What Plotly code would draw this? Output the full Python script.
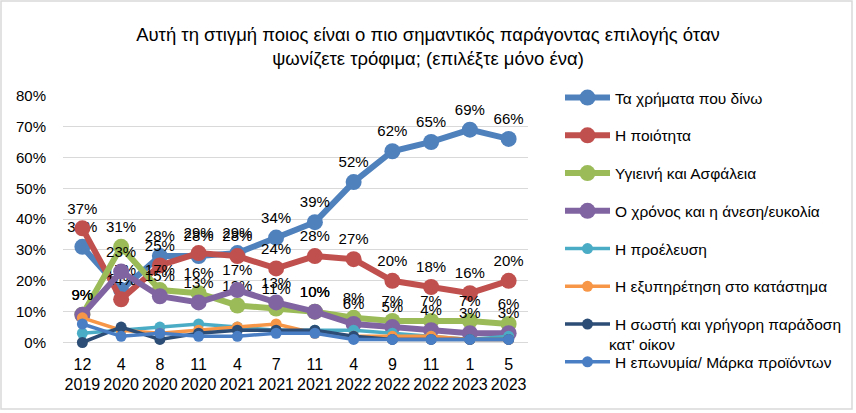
import plotly.graph_objects as go

# survey waves (month / year)
months = ["12", "4", "8", "11", "4", "7", "11", "4", "9", "11", "1", "5"]
years = ["2019", "2020", "2020", "2020", "2021", "2021", "2021", "2022", "2022", "2022", "2023", "2023"]
waves = [m + "<br>" + y for m, y in zip(months, years)]

# % of respondents
money = [31, 17, 28, 28, 29, 34, 39, 52, 62, 65, 69, 66]
quality = [37, 14, 25, 29, 28, 24, 28, 27, 20, 18, 16, 20]
hygiene = [9, 31, 17, 16, 12, 11, 10, 8, 7, 7, 7, 6]
convenience = [9, 23, 15, 13, 17, 13, 10, 6, 5, 4, 3, 3]
origin = [3, 4, 5, 6, 5, 4, 4, 4, 3, 2, 1, 2]
service = [8, 4, 3, 4, 5, 6, 3, 2, 2, 2, 1, 1]
delivery = [0, 5, 1, 3, 4, 4, 4, 2, 1, 1, 1, 1]
brand = [6, 2, 3, 2, 2, 3, 3, 1, 1, 1, 1, 1]

FONT = "Liberation Sans, Arial, sans-serif"

# name, values, colour, with data labels?
series = [
    ("Τα χρήματα που δίνω", money, "#4F81BD", True),
    ("Η ποιότητα", quality, "#C0504D", True),
    ("Υγιεινή και Ασφάλεια", hygiene, "#9BBB59", True),
    ("Ο χρόνος και η άνεση/ευκολία", convenience, "#8064A2", True),
    ("Η προέλευση", origin, "#4BACC6", False),
    ("Η εξυπηρέτηση στο κατάστημα", service, "#F79646", False),
    ("Η σωστή και γρήγορη παράδοση", delivery, "#2C4D75", False),
    ("Η επωνυμία/ Μάρκα προϊόντων", brand, "#4A7EC4", False),
]

# pixel layout helpers (figure 856 x 413, paper area = margins 63/328/10/10)
W, H = 856, 413
ML, MR, MT, MB = 63, 328, 10, 10
PW, PH = W - ML - MR, H - MT - MB


def px_x(p):
    return (p - ML) / PW


def px_y(p):
    return (H - MB - p) / PH


fig = go.Figure()
for i, (name, vals, col, labelled) in enumerate(series):
    fig.add_trace(go.Scatter(
        x=waves, y=vals, name=name,
        mode="lines+markers+text" if labelled else "lines+markers",
        text=[f"{v}%" for v in vals] if labelled else None,
        textposition="top center",
        textfont=dict(family=FONT, size=15, color="#000000"),
        line=dict(color=col, width=6 if labelled else 3.5),
        marker=dict(color=col, size=16 if labelled else 11),
        legendgroup=str(i),
        cliponaxis=False,
    ))

fig.update_layout(
    width=W, height=H,
    margin=dict(l=ML, r=MR, t=MT, b=MB, autoexpand=False),
    paper_bgcolor="white", plot_bgcolor="white",
    font=dict(family=FONT, size=14, color="#000000"),
    title=dict(
        text="Αυτή τη στιγμή ποιος είναι ο πιο σημαντικός παράγοντας επιλογής όταν<br>"
             "ψωνίζετε τρόφιμα; (επιλέξτε μόνο ένα)",
        x=0.5, xanchor="center", y=1 - 41 / H, yanchor="top",
        font=dict(family=FONT, size=18.5, color="#000000"),
    ),
    showlegend=True,
    legend=dict(
        x=px_x(560), xanchor="left",
        y=px_y(81), yanchor="top",
        font=dict(family=FONT, size=15.5),
        tracegroupgap=14.6,
        itemwidth=45,
        bgcolor="rgba(0,0,0,0)",
    ),
    annotations=[dict(
        text="κατ' οίκον", xref="paper", yref="paper",
        x=px_x(607), y=px_y(344), xanchor="left", yanchor="middle",
        showarrow=False, font=dict(family=FONT, size=15.5, color="#000000"),
    )],
    shapes=[dict(
        type="rect", xref="paper", yref="paper",
        x0=px_x(1), x1=px_x(852), y0=px_y(409), y1=px_y(1),
        line=dict(color="#D9D9D9", width=1.5), fillcolor="rgba(0,0,0,0)",
        layer="below",
    )],
)

fig.update_xaxes(
    type="category", range=[-0.5, len(waves) - 0.5],
    showgrid=False, showline=False, ticks="",
    automargin=False, ticklabelstandoff=10,
    tickfont=dict(family=FONT, size=16),
)
fig.update_yaxes(
    range=[0, 80], dtick=10, ticksuffix="%",
    domain=[px_y(342.5), px_y(95.7)],
    automargin=False,
    showgrid=True, gridcolor="#D9D9D9", gridwidth=1,
    zeroline=True, zerolinecolor="#D9D9D9", zerolinewidth=1,
    showline=False, ticks="", ticklabelstandoff=16,
    tickfont=dict(family=FONT, size=15),
)

# the page's default body margin would offset the chart by 8px
fig.write_html(
    "out.html",
    config={"displayModeBar": False},
    post_script="document.body.style.margin='0';",
)
